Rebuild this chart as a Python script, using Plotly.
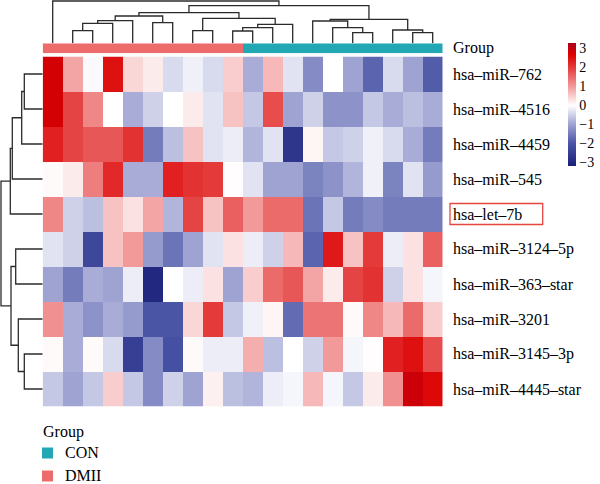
import plotly.graph_objects as go

W, H = 600, 484

row_names = ["hsa–miR–762", "hsa–miR–4516", "hsa–miR–4459", "hsa–miR–545", "hsa–let–7b",
             "hsa–miR–3124–5p", "hsa–miR–363–star", "hsa–miR–3201", "hsa–miR–3145–3p",
             "hsa–miR–4445–star"]
col_groups = ["DMII"] * 10 + ["CON"] * 10
group_colors = {"CON": "#22A7B4", "DMII": "#EE6B6B"}
highlight_row = "hsa–let–7b"

values = [
    [2.8, 0.9, -0.05, 2.5, 0.4, 0.2, -0.4, -0.15, -0.4, 0.5, -0.9, 0.7, -0.3, -1.3, 0.0, -1.0, -1.8, -0.4, -1.0, -1.9],
    [2.8, 1.9, 1.2, 0.0, -0.9, -0.5, 0.0, 0.2, -0.3, 0.6, -0.6, 1.8, -1.0, -0.5, -1.2, -1.2, -0.6, -0.9, -0.7, -0.9],
    [2.3, 1.9, 1.7, 1.7, 2.1, -1.5, -0.7, 0.6, -0.3, -0.2, -0.8, -0.3, -2.7, 0.1, -0.6, -0.5, -0.15, -0.4, -0.9, -1.5],
    [0.05, 0.2, 1.3, 2.2, -0.9, -0.9, 2.3, 2.1, 2.0, 0.02, -0.3, -1.0, -1.0, -1.4, -1.2, -0.8, -0.15, -1.4, -0.3, -1.1],
    [1.2, -0.5, -0.7, 0.6, 0.3, 0.9, -0.8, 1.9, 0.6, 1.6, 1.0, 1.5, 1.5, -1.6, -0.6, -1.5, -1.3, -1.5, -1.5, -1.5],
    [-0.3, -0.5, -2.3, 0.6, 1.0, -1.1, -1.6, -1.0, -0.3, 0.3, -0.2, -0.5, 0.7, -1.8, 2.4, 0.6, 2.0, -0.2, 0.3, 1.6],
    [-1.0, -1.5, -0.9, -1.0, -0.2, -3.0, 0.0, -0.2, 0.3, -1.0, 0.5, 1.5, 1.7, 0.9, 0.2, 1.9, 2.1, -0.5, 0.3, -0.1],
    [1.1, -0.9, -1.2, -0.9, -1.1, -2.0, -2.0, 0.4, 2.0, -0.6, -0.15, 0.1, -1.7, 1.4, 1.4, 0.05, 1.2, 0.7, 1.5, 0.5],
    [0.05, -0.9, 0.05, -0.4, -2.5, -1.3, -2.1, 0.05, -0.2, -0.2, 0.8, -0.7, 0.0, -0.5, 1.0, -0.1, 0.02, 2.3, 2.5, 1.8],
    [-0.6, -1.0, -0.6, 0.5, -0.6, -1.3, -0.5, -1.0, 0.15, -0.7, -0.8, -0.2, -0.1, 0.7, -0.1, -0.6, 0.2, 1.1, 2.9, 2.6],
]

# linkage: (child a, child b, height); leaves 0..n-1, merged nodes n, n+1, ...
col_linkage = [
    (1, 2, 12.6), (20, 3, 20.0), (21, 4, 22.6), (5, 6, 20.6), (22, 23, 27.3),
    (7, 8, 12.6), (9, 10, 12.3), (26, 11, 15.6), (27, 12, 19.0), (25, 28, 25.0),
    (24, 29, 30.6), (15, 16, 10.6), (14, 31, 15.6), (13, 32, 22.3), (18, 19, 10.6),
    (17, 34, 13.3), (33, 35, 24.0), (30, 36, 37.6), (0, 37, 42.3),
]
row_linkage = [
    (0, 1, 18.4), (10, 2, 21.0), (11, 3, 30.4), (12, 4, 32.4), (5, 6, 27.0),
    (8, 9, 18.4), (7, 15, 24.4), (14, 16, 31.7), (13, 17, 41.7),
]

colorbar_ticks = [-3, -2, -1, 0, 1, 2, 3]
zmin, zmax = -3.2, 3.3


def dendro_segments(linkage, n_leaves):
    pos = {i: float(i) for i in range(n_leaves)}
    hgt = {i: 0.0 for i in range(n_leaves)}
    ps, hs = [], []
    for k, (a, b, h) in enumerate(linkage):
        node = n_leaves + k
        ps += [pos[a], pos[a], pos[b], pos[b], None]
        hs += [hgt[a], h, h, hgt[b], None]
        pos[node] = (pos[a] + pos[b]) / 2
        hgt[node] = h
    return ps, hs


def px_x(p):
    return p / W


def px_y(p):
    return 1 - p / H


hm_x0, hm_x1 = 42.7, 442.7
hm_y0, hm_y1 = 56.5, 406.5
bar_y0, bar_y1 = 43.3, 53.3
font = "Liberation Serif, Times New Roman, Times, DejaVu Serif, serif"
fsize = 16

def frac(v):
    return (v - zmin) / (zmax - zmin)

colorscale = [
    [0.0, "#1a1f78"], [frac(-2.0), "#4a55a6"], [frac(-1.0), "#9ea3d2"], [frac(0.0), "#ffffff"],
    [frac(1.0), "#f29a9a"], [frac(2.0), "#e43a3a"], [frac(2.7), "#dc0000"], [1.0, "#a8001a"],
]

fig = go.Figure()

nrow, ncol = len(row_names), len(col_groups)

fig.add_trace(go.Heatmap(
    z=values, x=list(range(ncol)), y=list(range(nrow)), xaxis="x", yaxis="y",
    zmin=zmin, zmax=zmax, colorscale=colorscale, hoverinfo="skip",
    colorbar=dict(thickness=8, thicknessmode="pixels", len=123.3, lenmode="pixels",
                  x=px_x(568.3), xanchor="left", y=px_y(104.3), yanchor="middle",
                  xpad=0, ypad=0, outlinewidth=0, tickvals=colorbar_ticks, ticks="",
                  tickfont=dict(family=font, size=14, color="black")),
))

groups_order = ["CON", "DMII"]
fig.add_trace(go.Heatmap(
    z=[[groups_order.index(g) for g in col_groups]], x=list(range(ncol)), y=[0],
    xaxis="x2", yaxis="y2", zmin=0, zmax=1, showscale=False, hoverinfo="skip",
    colorscale=[[0, group_colors["CON"]], [0.5, group_colors["CON"]],
                [0.5, group_colors["DMII"]], [1, group_colors["DMII"]]],
))

cp, ch = dendro_segments(col_linkage, ncol)
fig.add_trace(go.Scatter(x=cp, y=ch, xaxis="x3", yaxis="y3", mode="lines",
                         line=dict(color="#2b2b2b", width=1.3), hoverinfo="skip", showlegend=False))
rp, rh = dendro_segments(row_linkage, nrow)
fig.add_trace(go.Scatter(x=rh, y=rp, xaxis="x4", yaxis="y4", mode="lines",
                         line=dict(color="#2b2b2b", width=1.3), hoverinfo="skip", showlegend=False))

hidden = dict(visible=False, fixedrange=True)
fig.update_layout(
    width=W, height=H, margin=dict(l=0, r=0, t=0, b=0),
    paper_bgcolor="white", plot_bgcolor="white", showlegend=False,
    font=dict(family=font),
    xaxis=dict(domain=[px_x(hm_x0), px_x(hm_x1)], range=[-0.5, ncol - 0.5], **hidden),
    yaxis=dict(domain=[px_y(hm_y1), px_y(hm_y0)], range=[nrow - 0.5, -0.5], **hidden),
    xaxis2=dict(domain=[px_x(hm_x0), px_x(hm_x1)], range=[-0.5, ncol - 0.5], **hidden),
    yaxis2=dict(domain=[px_y(bar_y1), px_y(bar_y0)], range=[-0.5, 0.5], **hidden),
    xaxis3=dict(domain=[px_x(hm_x0), px_x(hm_x1)], range=[-0.5, ncol - 0.5], **hidden),
    yaxis3=dict(domain=[px_y(bar_y0), 1], range=[0, bar_y0], **hidden),
    xaxis4=dict(domain=[0, px_x(hm_x0)], range=[hm_x0, 0], **hidden),
    yaxis4=dict(domain=[px_y(hm_y1), px_y(hm_y0)], range=[nrow - 0.5, -0.5], **hidden),
)

annotations = []
for i, name in enumerate(row_names):
    annotations.append(dict(text=name, x=px_x(451), xref="paper", xanchor="left",
                            y=i, yref="y", yanchor="middle", showarrow=False,
                            font=dict(family=font, size=fsize, color="black")))
annotations.append(dict(text="Group", x=px_x(451), xref="paper", xanchor="left",
                        y=px_y(48.3), yref="paper", yanchor="middle", showarrow=False,
                        font=dict(family=font, size=fsize, color="black")))
annotations.append(dict(text="Group", x=px_x(41), xref="paper", xanchor="left",
                        y=px_y(432), yref="paper", yanchor="middle", showarrow=False,
                        font=dict(family=font, size=fsize, color="black")))
shapes = []
for k, g in enumerate(groups_order):
    yc = 453 + 23 * k
    shapes.append(dict(type="rect", xref="paper", yref="paper",
                       x0=px_x(42), x1=px_x(53), y0=px_y(yc + 5.5), y1=px_y(yc - 5.5),
                       fillcolor=group_colors[g], line=dict(width=0)))
    annotations.append(dict(text=g, x=px_x(62.5), xref="paper", xanchor="left",
                            y=px_y(yc - 0.5), yref="paper", yanchor="middle", showarrow=False,
                            font=dict(family=font, size=fsize, color="black")))

ri = row_names.index(highlight_row)
shapes.append(dict(type="rect", xref="paper", yref="y", x0=px_x(450), x1=px_x(542.7),
                   y0=ri - 0.3, y1=ri + 0.3, line=dict(color="#E5463F", width=1.3)))

fig.update_layout(annotations=annotations, shapes=shapes)
fig.write_html("out.html")
